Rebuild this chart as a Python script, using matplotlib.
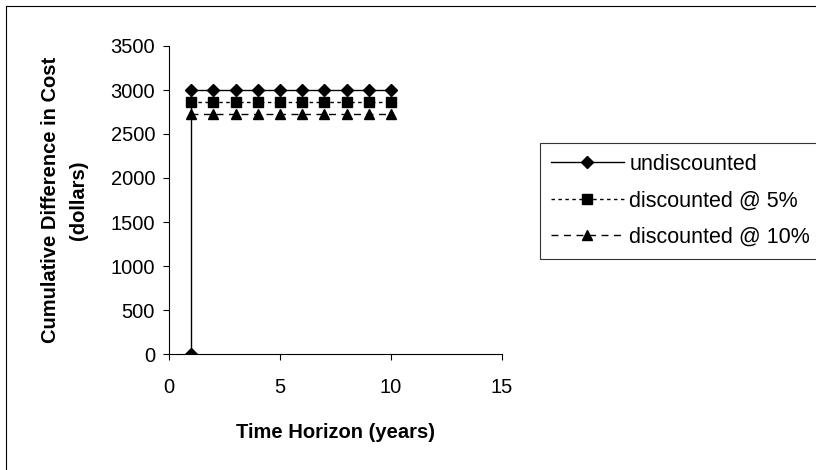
import matplotlib
matplotlib.use("Agg")
import matplotlib.pyplot as plt
from matplotlib.lines import Line2D

plt.rcParams['font.family'] = ['Liberation Sans', 'DejaVu Sans']

# data
years_undisc = [1, 1, 2, 3, 4, 5, 6, 7, 8, 9, 10]
undiscounted = [0, 3000, 3000, 3000, 3000, 3000, 3000, 3000, 3000, 3000, 3000]
years = [1, 2, 3, 4, 5, 6, 7, 8, 9, 10]
disc5 = [2860, 2860, 2860, 2860, 2860, 2860, 2860, 2860, 2860, 2860]
disc10 = [2730, 2730, 2730, 2730, 2730, 2730, 2730, 2730, 2730, 2730]
x_ticks = [0, 5, 10, 15]
y_ticks = [0, 500, 1000, 1500, 2000, 2500, 3000, 3500]

W, H = 816, 470
fig = plt.figure(figsize=(W / 100, H / 100), dpi=100)
ax = fig.add_axes([169 / W, 1 - 354 / H, (502 - 169) / W, (354 - 46) / H])

ax.plot(years_undisc, undiscounted, color='black', lw=1, ls='-',
        marker='D', ms=6, label='undiscounted')
ax.plot(years, disc5, color='black', lw=1, ls=(0, (2.5, 2.5)),
        marker='s', ms=6.5, label='discounted @ 5%')
ax.plot(years, disc10, color='black', lw=1, ls=(0, (5, 4)),
        marker='^', ms=7, label='discounted @ 10%')

ax.set_xlim(0, 15)
ax.set_ylim(0, 3500)
ax.set_xticks(x_ticks)
ax.set_yticks(y_ticks)
ax.tick_params(direction='out', length=4, width=0.8, labelsize=14.5)
ax.tick_params(axis='y', pad=6)
ax.tick_params(axis='x', pad=13)
for s in ['top', 'right']:
    ax.spines[s].set_visible(False)
for s in ['left', 'bottom']:
    ax.spines[s].set_linewidth(0.8)

ax.set_xlabel('Time Horizon (years)', fontsize=14.5, fontweight='bold', labelpad=19)
ax.set_ylabel('Cumulative Difference in Cost\n(dollars)', fontsize=14.5,
              fontweight='bold', labelpad=16, linespacing=1.6)

leg = fig.legend(loc='upper left', bbox_to_anchor=(540 / W, 1 - 143 / H),
                 fontsize=15.5, frameon=True, fancybox=False, edgecolor='black',
                 handlelength=3.4, handletextpad=0.25, labelspacing=0.72,
                 borderaxespad=0, borderpad=0.5)
leg.get_frame().set_linewidth(0.8)

# outer chart border (only top and left are inside the cropped picture)
fig.add_artist(Line2D([6 / W, 1], [1 - 6 / H, 1 - 6 / H], transform=fig.transFigure,
                      color='black', lw=0.8))
fig.add_artist(Line2D([6 / W, 6 / W], [0, 1 - 6 / H], transform=fig.transFigure,
                      color='black', lw=0.8))

fig.savefig('out.png', dpi=100)
